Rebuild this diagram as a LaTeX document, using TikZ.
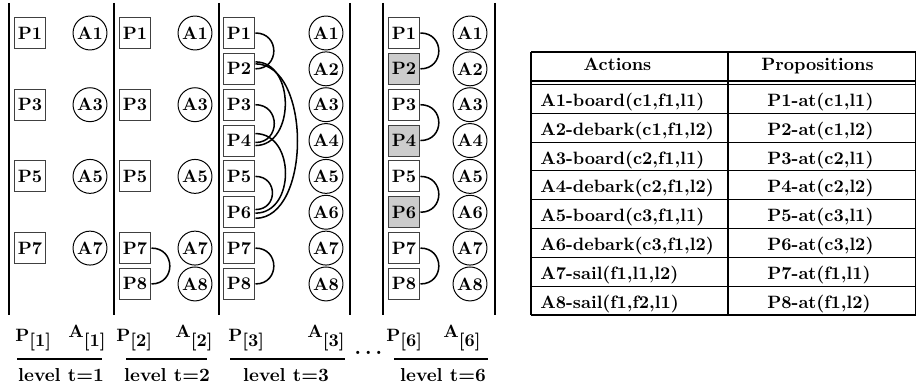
\documentclass[tikz,border=0pt]{standalone}
\begin{document}
\begin{tikzpicture}[x=0.56pt,y=-0.56pt,
  font=\bfseries,
  pbox/.style={draw=black!75,line width=0.55pt,minimum width=17.9pt,minimum height=17.4pt,inner sep=0pt},
  pshade/.style={pbox,fill=black!20},
  abox/.style={circle,draw,line width=0.55pt,minimum size=19pt,inner sep=0pt},
  vline/.style={line width=1.15pt},
  rulebar/.style={line width=1.15pt},
  link/.style={line width=0.85pt},
  tline/.style={line width=0.6pt},
  tvline/.style={line width=0.8pt},
  lab/.style={anchor=base west,inner sep=0pt},
  lvl/.style={anchor=base,inner sep=0pt,font=\fontsize{10.5}{12}\selectfont\bfseries}
]
\useasboundingbox (0,0) rectangle (918,390);

% vertical separators
\foreach \x in {9,114,219,350,383,495} \draw[vline] (\x,3) -- (\x,315);

% level 1
\foreach \i in {1,3,5,7} {
  \node[pbox] (pa\i) at (30,{33+(\i-1)*35.85}) {P\i};
  \node[abox] (aa\i) at (90,{33+(\i-1)*35.85}) {A\i};
}
% level 2
\foreach \i in {1,3,5,7,8} {
  \node[pbox] (pb\i) at (135,{33+(\i-1)*35.85}) {P\i};
  \node[abox] (ab\i) at (195,{33+(\i-1)*35.85}) {A\i};
}
\draw[link] (pb7.east) to[out=0,in=0,looseness=1.75] (pb8.east);

% level 3
\foreach \i in {1,...,8} {
  \node[pbox] (pc\i) at (239,{33+(\i-1)*35.85}) {P\i};
  \node[abox] (ac\i) at (326,{33+(\i-1)*35.85}) {A\i};
}
\draw[link] (pc1.east) to[out=0,in=0,looseness=1.75] (pc2.east);
\draw[link] (pc3.east) to[out=0,in=0,looseness=1.7] ([yshift=-1.1pt]pc4.east);
\draw[link] (pc5.east) to[out=0,in=0,looseness=1.75] ([yshift=1.5pt]pc6.east);
\draw[link] (pc7.east) to[out=0,in=0,looseness=1.75] (pc8.east);
\draw[link] ([yshift=3.9pt]pc2.east) to[out=0,in=0,looseness=1.22] ([yshift=-2.8pt]pc4.east);
\draw[link] ([yshift=2.8pt]pc2.east) to[out=0,in=0,looseness=0.93] ([yshift=-3.4pt]pc6.east);
\draw[link] ([yshift=3.9pt]pc4.east) to[out=0,in=0,looseness=1.29] ([yshift=-0.5pt]pc6.east);

% level 6
\foreach \i in {1,3,5,7} {
  \node[pbox] (pd\i) at (404,{33+(\i-1)*35.85}) {P\i};
}
\foreach \i in {2,4,6} {
  \node[pshade] (pd\i) at (404,{33+(\i-1)*35.85}) {P\i};
}
\node[pbox] (pd8) at (404,{33+7*35.85}) {P8};
\foreach \i in {1,...,8} {
  \node[abox] (ad\i) at (470,{33+(\i-1)*35.85}) {A\i};
}
\draw[link] (pd1.east) to[out=0,in=0,looseness=1.75] (pd2.east);
\draw[link] (pd3.east) to[out=0,in=0,looseness=1.75] (pd4.east);
\draw[link] (pd5.east) to[out=0,in=0,looseness=1.75] (pd6.east);
\draw[link] (pd7.east) to[out=0,in=0,looseness=1.75] (pd8.east);

% bottom labels
\node[lab] (lp1) at (15,342) {P\raisebox{-2.8pt}{[1]}};
\node[lab] (la1) at (68,338) {A\raisebox{-5pt}{[1]}};
\node[lab] (lp2) at (116,342) {P\raisebox{-2.8pt}{[2]}};
\node[lab] (la2) at (175,338) {A\raisebox{-5pt}{[2]}};
\node[lab] (lp3) at (228,342) {P\raisebox{-2.8pt}{[3]}};
\node[lab] (la3) at (307,338) {A\raisebox{-5pt}{[3]}};
\node[lab] (lp6) at (386,342) {P\raisebox{-2.8pt}{[6]}};
\node[lab] (la6) at (443,338) {A\raisebox{-5pt}{[6]}};
\node[lab,font=\fontsize{12.5}{14}\selectfont\bfseries] (dots) at (354,355) {.\kern2pt.\kern2pt.};

\draw[rulebar] (17,359) -- (102,359);
\draw[rulebar] (126,359) -- (207,359);
\draw[rulebar] (230,359) -- (345,359);
\draw[rulebar] (394,359) -- (488,359);

\node[lvl] (lt1) at (61,382) {level t=1};
\node[lvl] (lt2) at (167,382) {level t=2};
\node[lvl] (lt3) at (286,382) {level t=3};
\node[lvl] (lt6) at (443,382) {level t=6};

% table
\draw[tline] (531,52) -- (915.5,52);
\draw[tline] (531,315) -- (915.5,315);
\draw[tvline] (531,52) -- (531,315);
\draw[tvline] (915.5,52) -- (915.5,315);
\draw[tvline] (728,52) -- (728,315);
\draw[tline] (531,81) -- (915.5,81);
\draw[tline] (531,84.5) -- (915.5,84.5);
\foreach \k in {1,...,7} \draw[tline] (531,{84.5+\k*28.8}) -- (915.5,{84.5+\k*28.8});
\node[anchor=base,inner sep=0pt] (hact) at (617.5,71) {Actions};
\node[anchor=base,inner sep=0pt] (hprop) at (817.5,71) {Propositions};
\foreach \k/\a/\p in {0/{A1-board(c1,f1,l1)}/{P1-at(c1,l1)},
                      1/{A2-debark(c1,f1,l2)}/{P2-at(c1,l2)},
                      2/{A3-board(c2,f1,l1)}/{P3-at(c2,l1)},
                      3/{A4-debark(c2,f1,l2)}/{P4-at(c2,l2)},
                      4/{A5-board(c3,f1,l1)}/{P5-at(c3,l1)},
                      5/{A6-debark(c3,f1,l2)}/{P6-at(c3,l2)},
                      6/{A7-sail(f1,l1,l2)}/{P7-at(f1,l1)},
                      7/{A8-sail(f1,f2,l1)}/{P8-at(f1,l2)}} {
  \node[lab] (ta\k) at (540,{106.5+\k*28.8}) {\a};
  \node[lab] (tp\k) at (767,{106.5+\k*28.8}) {\p};
}
\end{tikzpicture}
\end{document}
